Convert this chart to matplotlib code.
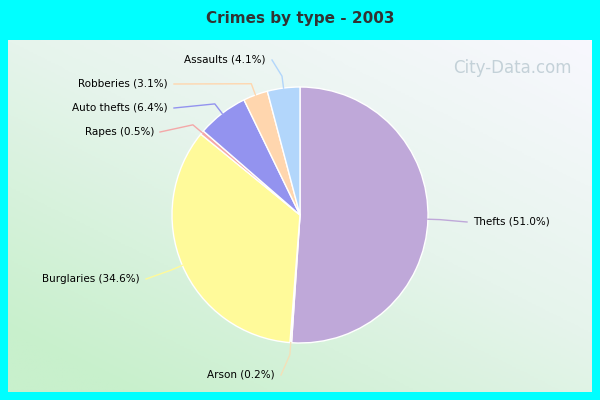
import numpy as np
import matplotlib
matplotlib.use("Agg")
import matplotlib.pyplot as plt
from matplotlib.colors import LinearSegmentedColormap

labels = ["Thefts", "Arson", "Burglaries", "Rapes", "Auto thefts", "Robberies", "Assaults"]
shares = [51.0, 0.2, 34.6, 0.5, 6.4, 3.1, 4.1]
colors = ["#bfa8d9", "#f4e0b8", "#fffa9a", "#f4a8a8", "#9393ef", "#ffd6ae", "#b2d6fb"]
# text anchor (pixel coords) and alignment for each label
text_pos = [(473, 222, "left"), (275, 375, "right"), (140, 279, "right"),
            (154, 132, "right"), (168, 108, "right"), (168, 84, "right"), (266, 60, "right")]

fig = plt.figure(figsize=(6, 4), dpi=100, facecolor="#00ffff")
ax = fig.add_axes([8 / 600, 8 / 400, 584 / 600, 352 / 400])
ax.set_xlim(8, 592)
ax.set_ylim(392, 40)
ax.axis("off")

yy, xx = np.mgrid[0:1:200j, 0:1:300j]
g = np.clip((1 - xx) * 0.5 + yy * 0.6, 0, 1)
cmap = LinearSegmentedColormap.from_list("bg", ["#f8f8fe", "#e6f4ec", "#c8f0cc"])
ax.imshow(g, extent=(8, 592, 392, 40), cmap=cmap, aspect="auto", zorder=0)

cx, cy, r = 300, 215, 128
wedges, _ = ax.pie(shares, colors=colors, startangle=-90, counterclock=True,
                   center=(cx, cy), radius=r, frame=True,
                   wedgeprops=dict(edgecolor="white", linewidth=1))
ax.set_xlim(8, 592)
ax.set_ylim(392, 40)
ax.set_aspect("equal")
ax.axis("off")

for w, lab, s, (tx, ty, ha) in zip(wedges, labels, shares, text_pos):
    ang = np.deg2rad((w.theta1 + w.theta2) / 2)
    x0, y0 = cx + r * np.cos(ang), cy + r * np.sin(ang)
    x1, y1 = cx + (r + 12) * np.cos(ang), cy + (r + 12) * np.sin(ang)
    ex = tx - 6 if ha == "left" else tx + 6
    ax.plot([x0, x1, ex], [y0, y1, ty], color=w.get_facecolor(), lw=1, zorder=3)
    ax.text(tx, ty, f"{lab} ({s:.1f}%)", ha=ha, va="center", fontsize=7.5, zorder=4)

ax.text(572, 68, "City-Data.com", ha="right", va="center", fontsize=12,
        color="#b8c8d0", alpha=0.8, zorder=2)
fig.text(0.5, 0.955, "Crimes by type - 2003", ha="center", va="center",
         fontsize=11, fontweight="bold", color="#333333")

fig.savefig("out.png", dpi=100, facecolor=fig.get_facecolor())
